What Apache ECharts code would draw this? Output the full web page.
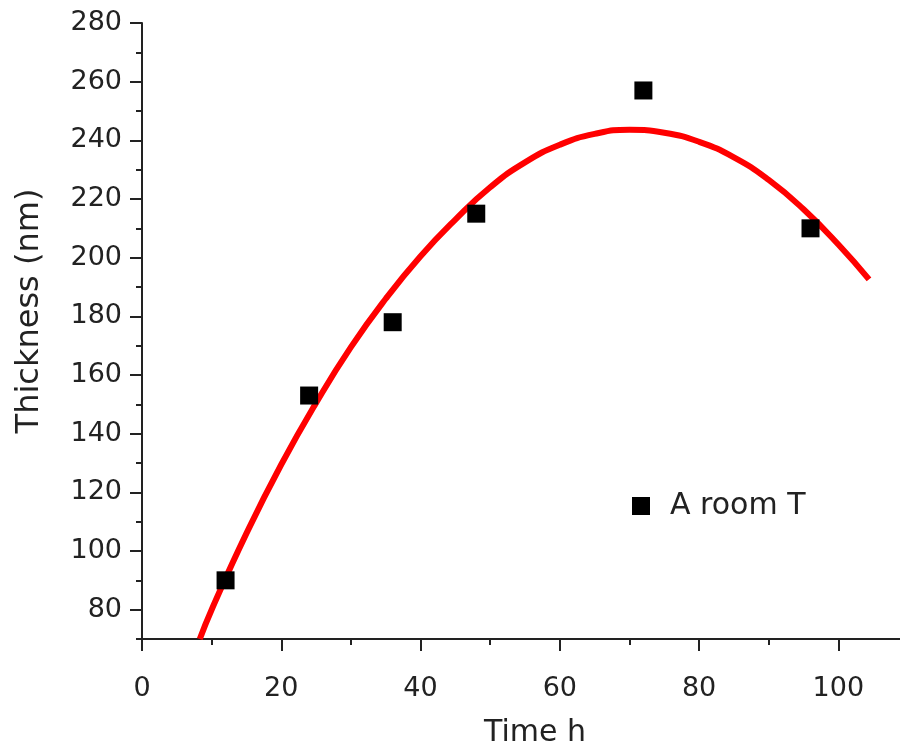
<!DOCTYPE html>
<html>
<head>
<meta charset="utf-8">
<script src="https://cdn.jsdelivr.net/npm/echarts@6/dist/echarts.min.js"></script>
<style>
  html, body { margin: 0; padding: 0; background: #fff; }
  #main { width: 900px; height: 747px; }
</style>
</head>
<body>
<div id="main"></div>
<script>
// measured points, time (h) vs thickness (nm)
var timeH = [12, 24, 36, 48, 72, 96];
var thickness = [90, 153, 178, 215, 257, 210];

// red fitted curve
var fitX = [8.3, 10, 15, 20, 25, 30, 35, 40, 45, 50, 55, 60, 65, 70, 75, 80, 85, 90, 95, 100, 104.4];
var fitY = [70, 80, 106, 129.5, 150.5, 169.5, 186, 200.5, 213, 224, 232.5, 238.5, 242.2, 243.6, 242.6, 239.5, 234.2, 226.5, 216.5, 204.5, 192.6];

var xMajor = [0, 20, 40, 60, 80, 100];
var yMajor = [80, 100, 120, 140, 160, 180, 200, 220, 240, 260, 280];

var ink = '#222';
var font = 'DejaVu Sans, sans-serif';

var myChart = echarts.init(document.getElementById('main'));
myChart.setOption({
    animation: false,
    grid: { left: 142, top: 23, right: -8, bottom: 108, outerBoundsMode: 'none' },
    legend: {
        data: ['A room T'],
        left: 627,
        top: 486,
        icon: 'rect',
        itemWidth: 18,
        itemHeight: 18,
        textStyle: { fontSize: 30, color: ink, fontFamily: font, padding: [0, 0, 0, 15] }
    },
    graphic: [{
        type: 'text',
        x: 30,
        y: 311,
        rotation: Math.PI / 2,
        style: {
            text: 'Thickness (nm)',
            fontSize: 32,
            fontFamily: font,
            fill: ink,
            align: 'center',
            verticalAlign: 'middle'
        }
    }],
    xAxis: [
        {
            type: 'value',
            min: 0, max: 110, interval: 10,
            axisLine: { show: true, lineStyle: { color: ink, width: 2 } },
            axisTick: { show: true, length: 6, lineStyle: { color: ink, width: 2 } },
            splitLine: { show: false },
            axisLabel: {
                fontSize: 27, color: ink, fontFamily: font, margin: 36,
                formatter: function (v) { return xMajor.indexOf(v) >= 0 ? String(v) : ''; }
            },
            name: 'Time h',
            nameLocation: 'middle',
            nameGap: 79,
            nameTextStyle: { fontSize: 30, color: ink, fontFamily: font, padding: [0, 0, 0, 20] }
        },
        {
            type: 'value',
            position: 'bottom',
            min: 0, max: 110, interval: 10,
            axisLine: { show: false },
            axisTick: { show: true, length: 12, customValues: xMajor, lineStyle: { color: ink, width: 2 } },
            axisLabel: { show: false },
            splitLine: { show: false }
        }
    ],
    yAxis: [
        {
            type: 'value',
            min: 70, max: 280, interval: 10,
            axisLine: { show: true, lineStyle: { color: ink, width: 2 } },
            axisTick: { show: true, length: 6, lineStyle: { color: ink, width: 2 } },
            splitLine: { show: false },
            axisLabel: {
                fontSize: 27, color: ink, fontFamily: font, margin: 20,
                formatter: function (v) { return yMajor.indexOf(v) >= 0 ? String(v) : ''; }
            }
        },
        {
            type: 'value',
            position: 'left',
            min: 70, max: 280, interval: 10,
            axisLine: { show: false },
            axisTick: { show: true, length: 12, customValues: yMajor, lineStyle: { color: ink, width: 2 } },
            axisLabel: { show: false },
            splitLine: { show: false }
        }
    ],
    series: [
        {
            name: 'fit',
            type: 'line',
            smooth: true,
            showSymbol: false,
            lineStyle: { color: '#ff0000', width: 6 },
            data: fitX.map(function (x, i) { return [x, fitY[i]]; }),
            z: 2
        },
        {
            name: 'A room T',
            type: 'scatter',
            symbol: 'rect',
            symbolSize: 18,
            itemStyle: { color: '#000', opacity: 1 },
            data: timeH.map(function (t, i) { return [t, thickness[i]]; }),
            z: 3
        }
    ]
});
</script>
</body>
</html>
